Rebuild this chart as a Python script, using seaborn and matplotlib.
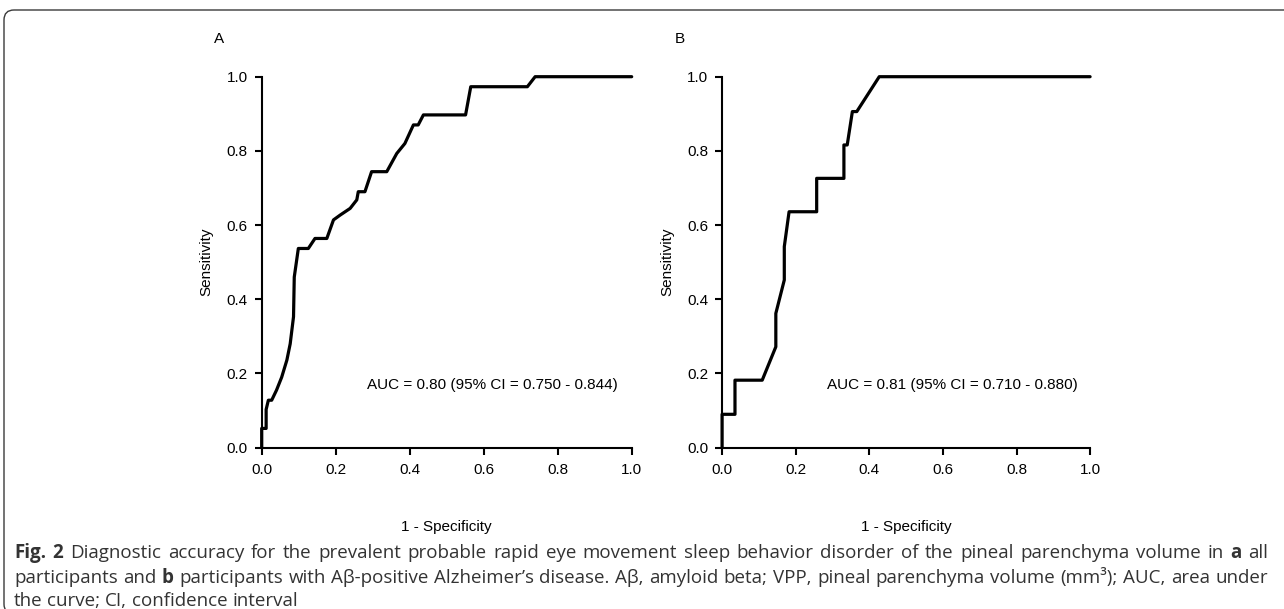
import numpy as np
import pandas as pd
import matplotlib
matplotlib.use("Agg")
import matplotlib.pyplot as plt
import seaborn as sns
from matplotlib.patches import FancyBboxPatch
from matplotlib.transforms import IdentityTransform

# ---- data ----
fpr_a = [0, 0, 0.012, 0.012, 0.018, 0.027, 0.040, 0.054, 0.068, 0.077,
         0.086, 0.088, 0.099, 0.126, 0.144, 0.176, 0.194, 0.212, 0.239, 0.257,
         0.261, 0.279, 0.297, 0.338, 0.365, 0.387, 0.410, 0.423, 0.437, 0.551,
         0.565, 0.718, 0.739, 1.0]
tpr_a = [0, 0.052, 0.052, 0.103, 0.128, 0.128, 0.155, 0.19, 0.236, 0.28,
         0.353, 0.46, 0.537, 0.537, 0.564, 0.564, 0.614, 0.627, 0.645, 0.668,
         0.69, 0.69, 0.744, 0.744, 0.793, 0.82, 0.87, 0.87, 0.897, 0.897,
         0.973, 0.973, 1.0, 1.0]
fpr_b = [0, 0, 0.035, 0.035, 0.109, 0.146, 0.146, 0.169, 0.169, 0.182,
         0.257, 0.257, 0.331, 0.331, 0.340, 0.354, 0.366, 0.427, 1.0]
tpr_b = [0, 0.09, 0.09, 0.182, 0.182, 0.272, 0.362, 0.452, 0.542, 0.636,
         0.636, 0.726, 0.726, 0.816, 0.816, 0.906, 0.906, 1.0, 1.0]
ticks = [0.0, 0.2, 0.4, 0.6, 0.8, 1.0]
tick_labels = ["0.0", "0.2", "0.4", "0.6", "0.8", "1.0"]
panel_labels = ["A", "B"]
auc_labels = ["AUC = 0.80 (95% CI = 0.750 - 0.844)",
              "AUC = 0.81 (95% CI = 0.710 - 0.880)"]
x_label = "1 - Specificity"
y_label = "Sensitivity"

caption_lines = [
    [("Fig. 2", True), (" Diagnostic accuracy for the prevalent probable rapid eye movement sleep behavior disorder of the pineal parenchyma volume in ", False), ("a", True), (" all", False)],
    [("participants and ", False), ("b", True), (" participants with A\u03b2-positive Alzheimer\u2019s disease. A\u03b2, amyloid beta; VPP, pineal parenchyma volume (mm\u00b3); AUC, area under", False)],
    [("the curve; CI, confidence interval", False)],
]

sns.set_theme(style="ticks")
plt.rcParams['font.family'] = ['Liberation Sans', 'DejaVu Sans']

W, H = 1284, 609
fig = plt.figure(figsize=(W / 100, H / 100), dpi=100)
fig.patch.set_facecolor("white")

def rect(x0, x1, yt, yb):
    return [x0 / W, 1 - yb / H, (x1 - x0) / W, (yb - yt) / H]

axA = fig.add_axes(rect(261.7, 631.7, 76.7, 447.7))
axB = fig.add_axes(rect(722.1, 1090.1, 76.7, 447.7))

FS = 11
for ax, fx, ty, auc in [(axA, fpr_a, tpr_a, auc_labels[0]),
                        (axB, fpr_b, tpr_b, auc_labels[1])]:
    df = pd.DataFrame({"fpr": fx, "tpr": ty})
    sns.lineplot(data=df, x="fpr", y="tpr", sort=False, estimator=None,
                 color="black", linewidth=2.3, ax=ax, clip_on=False)
    ax.set_xlim(0, 1)
    ax.set_ylim(0, 1)
    ax.set_facecolor("white")
    for s in ["top", "right"]:
        ax.spines[s].set_visible(False)
    for s in ["left", "bottom"]:
        ax.spines[s].set_linewidth(1.5)
        ax.spines[s].set_color("black")
    ax.set_xticks(ticks)
    ax.set_xticklabels(tick_labels)
    ax.set_yticks(ticks)
    ax.set_yticklabels(tick_labels)
    ax.tick_params(axis="both", direction="out", length=5, width=1.5,
                   colors="black", labelsize=FS, pad=5)
    ax.tick_params(axis="x", pad=6)
    ax.set_xlabel(x_label, fontsize=FS, color="black", va="center")
    ax.set_ylabel(y_label, fontsize=FS, color="black", va="center")
    ax.xaxis.set_label_coords(0.5, -0.214)
    ax.yaxis.set_label_coords(-0.149, 0.5)
    ax.text(0.284, 0.169, auc, transform=ax.transAxes, fontsize=FS,
            ha="left", va="center", color="black")

fig.text(219, H - 39.3, panel_labels[0], transform=IdentityTransform(),
         fontsize=FS, ha="center", va="center", color="black")
fig.text(680, H - 39.3, panel_labels[1], transform=IdentityTransform(),
         fontsize=FS, ha="center", va="center", color="black")

# frame
frame = FancyBboxPatch((4, H - 614), 1320, 604, boxstyle="round,pad=0,rounding_size=10",
                       transform=IdentityTransform(), facecolor="none",
                       edgecolor="#3a3a3a", linewidth=1.0)
fig.add_artist(frame)

# caption with justification
renderer = fig.canvas.get_renderer()
cap_font = ['Open Sans', 'DejaVu Sans']
cap_color = "#333333"
left_px, right_px = 14, 1268
baselines = [H - 558, H - 583, H - 606]

def words_of(line):
    out = []
    for txt, bold in line:
        for p in txt.split(" "):
            if p:
                out.append((p, bold))
    return out

def measure(word, bold, size):
    t = fig.text(0, 0, word, fontsize=size, family=cap_font,
                 fontweight="bold" if bold else "normal", transform=IdentityTransform())
    w = t.get_window_extent(renderer).width
    t.remove()
    return w

size = 11.0
words2 = words_of(caption_lines[1])
tw = sum(measure(w, b, size) for w, b in words2)
sp = measure("a a", False, size) - 2 * measure("a", False, size)
natural = tw + sp * (len(words2) - 1)
size = size * (right_px - left_px) / natural * 0.995

for li, line in enumerate(caption_lines):
    words = words_of(line)
    widths = [measure(w, b, size) for w, b in words]
    sp = measure("a a", False, size) - 2 * measure("a", False, size)
    if li < 2:
        gap = (right_px - left_px - sum(widths)) / (len(words) - 1)
    else:
        gap = sp
    x = left_px
    for (w, b), wd in zip(words, widths):
        fig.text(x, baselines[li], w, fontsize=size, family=cap_font,
                 fontweight="bold" if b else "normal", color=cap_color,
                 transform=IdentityTransform(), ha="left", va="baseline")
        x += wd + gap

fig.savefig("out.png", dpi=100, facecolor="white")
